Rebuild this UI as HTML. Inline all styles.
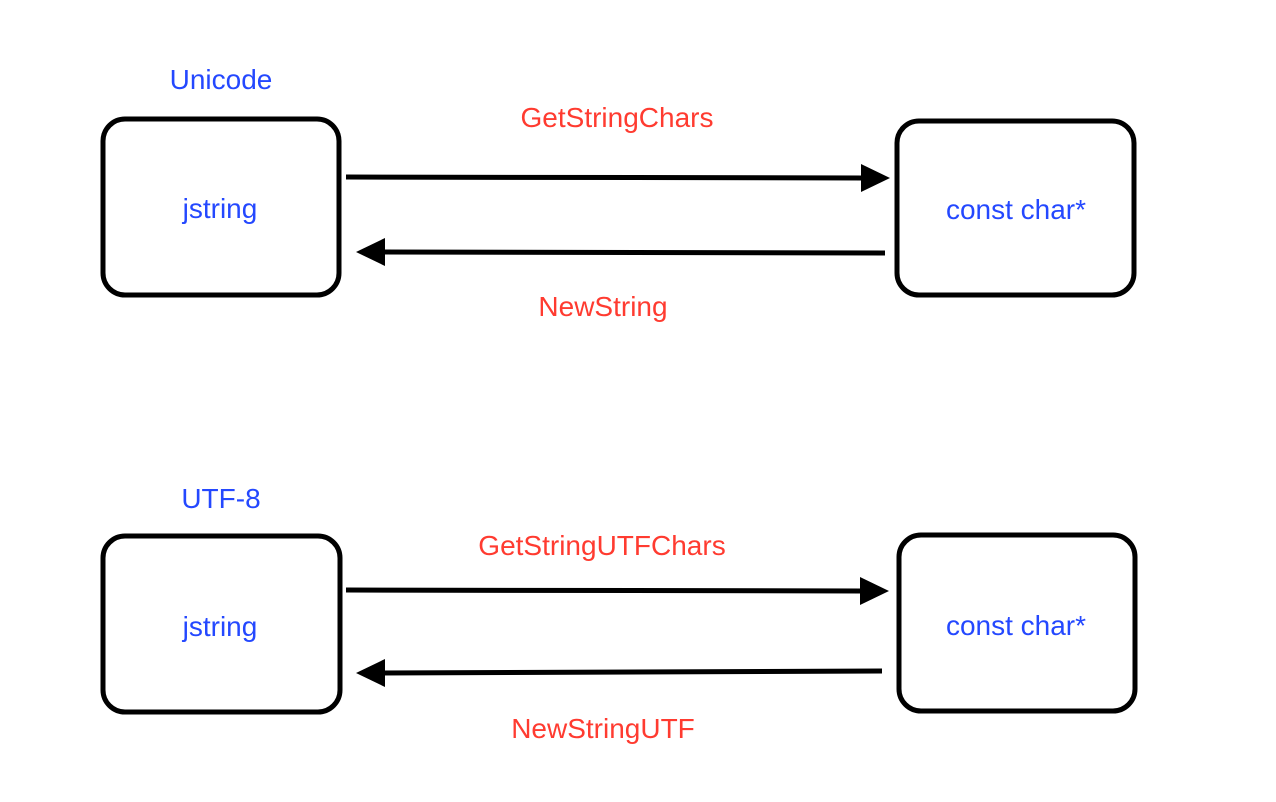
<!DOCTYPE html>
<html><head><style>
body{margin:0;background:#fff;}
</style></head><body>
<svg width="1276" height="802" xmlns="http://www.w3.org/2000/svg" style="display:block">
<g fill="none" stroke="#000" stroke-width="5">
<rect x="103" y="119" width="236" height="176" rx="22"/>
<rect x="897" y="121" width="237" height="174" rx="22"/>
<rect x="103" y="536" width="237" height="176" rx="22"/>
<rect x="899" y="535" width="236" height="176" rx="22"/>
<line x1="346" y1="177" x2="864" y2="178"/>
<line x1="885" y1="253" x2="382" y2="252"/>
<line x1="346" y1="590" x2="862" y2="591"/>
<line x1="882" y1="671" x2="382" y2="673"/>
</g>
<g fill="#000">
<polygon points="890,178 861,164 861,192"/>
<polygon points="356,252 385,238 385,266"/>
<polygon points="889,591 860,577 860,605"/>
<polygon points="356,673 385,659 385,687"/>
</g>
<g font-family="Liberation Sans, sans-serif" font-size="28" text-anchor="middle">
<g fill="#2448ff">
<text x="221" y="89">Unicode</text>
<text x="220" y="218">jstring</text>
<text x="1016" y="219">const char*</text>
<text x="221" y="508">UTF-8</text>
<text x="220" y="636">jstring</text>
<text x="1016" y="635">const char*</text>
</g>
<g fill="#ff3b30">
<text x="617" y="127">GetStringChars</text>
<text x="603" y="316">NewString</text>
<text x="602" y="555">GetStringUTFChars</text>
<text x="603" y="738">NewStringUTF</text>
</g>
</g>
</svg>
</body></html>
